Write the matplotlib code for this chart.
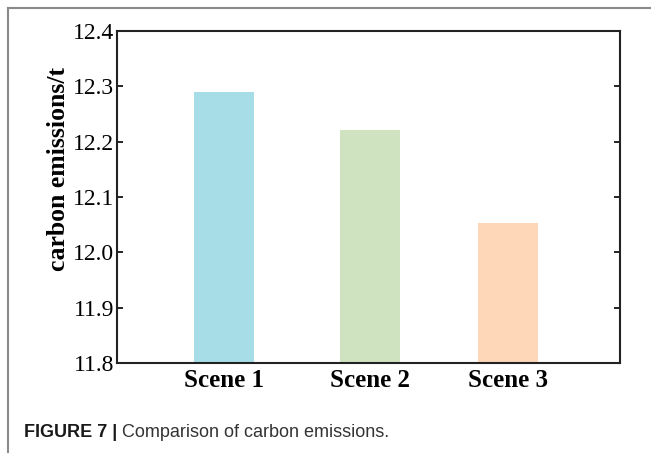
import matplotlib
matplotlib.use("Agg")
import matplotlib.pyplot as plt
from matplotlib.lines import Line2D

# carbon emissions per scene (t)
scenes = ['Scene 1', 'Scene 2', 'Scene 3']
emissions = [12.29, 12.22, 12.054]
bar_colors = ['#A6DDE7', '#CFE3C0', '#FED6B8']
yticks = [11.8, 11.9, 12.0, 12.1, 12.2, 12.3, 12.4]

serif = ['Liberation Serif', 'DejaVu Serif']
sans = ['Liberation Sans', 'DejaVu Sans']

fig = plt.figure(figsize=(6.51, 4.53), dpi=100)
ax = fig.add_axes([0.1802, 0.198, 0.7722, 0.7342])

xpos = [0, 1.0, 1.94]
ax.bar(xpos, emissions, width=0.41, color=bar_colors, zorder=2)

ax.set_xlim(-0.726, 2.703)
ax.set_ylim(11.8, 12.4)
ax.set_yticks(yticks)
ax.set_yticklabels([f'{v:.1f}' for v in yticks], fontsize=17, family=serif)
ax.set_xticks(xpos)
ax.set_xticklabels(scenes, fontsize=18, fontweight='bold', family=serif)
ax.tick_params(axis='y', direction='in', length=4, width=1.2, right=True, pad=2)
ax.tick_params(axis='x', length=0, pad=4)
for sp in ax.spines.values():
    sp.set_linewidth(1.5)
    sp.set_color('#222222')

ax.set_ylabel('carbon emissions/t', fontsize=18.5, fontweight='bold', family=serif)
ax.yaxis.set_label_coords(-0.094, 0.585)

# thin grey frame around the figure panel
fig.add_artist(Line2D([8/651, 1.0], [1 - 8/453, 1 - 8/453], color='#8a8a8a', lw=1.5,
                      transform=fig.transFigure))
fig.add_artist(Line2D([8/651, 8/651], [0.0, 1 - 8/453], color='#8a8a8a', lw=1.5,
                      transform=fig.transFigure))

# caption
t1 = fig.text(24/651, 0.046, 'FIGURE 7 |', fontsize=13, fontweight='bold',
              family=sans, color='#1a1a1a', va='center')
ax.annotate(' Comparison of carbon emissions.', xy=(1, 0.5), xycoords=t1,
            va='center', ha='left', fontsize=13, family=sans, color='#333333',
            annotation_clip=False)

fig.savefig('out.png', dpi=100)
